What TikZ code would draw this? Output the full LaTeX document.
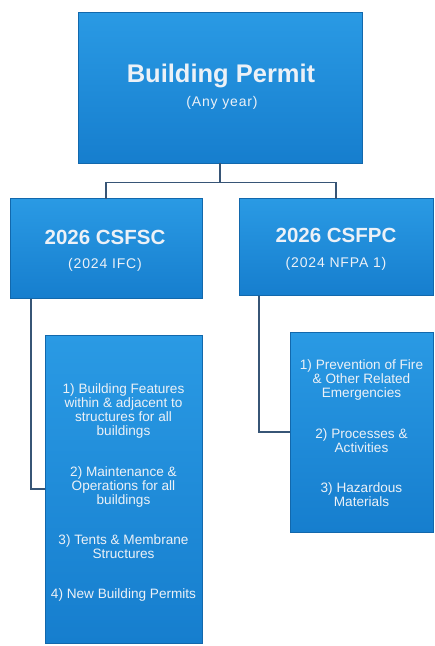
\documentclass[tikz,border=0pt]{standalone}
\usepackage{fontspec}
\setmainfont{Liberation Sans}
\definecolor{boxtop}{RGB}{42,154,228}
\definecolor{boxbot}{RGB}{22,126,206}
\definecolor{boxedge}{RGB}{18,104,172}
\definecolor{connc}{RGB}{55,85,118}
\definecolor{txt}{RGB}{236,241,247}
\tikzset{
  box/.style={rectangle, draw=boxedge, line width=0.6pt, top color=boxtop, bottom color=boxbot, inner sep=0pt, outer sep=0pt},
  conn/.style={draw=connc, line width=1.3pt},
  titletext/.style={text=txt, font=\bfseries\fontsize{25.5}{28}\selectfont, inner sep=0pt, anchor=base},
  subtext/.style={text=txt, font=\fontsize{14}{16}\selectfont\addfontfeatures{LetterSpace=6}, inner sep=0pt, anchor=base},
  midtitle/.style={text=txt, font=\bfseries\fontsize{20.5}{24}\selectfont, inner sep=0pt, anchor=base},
  leaftext/.style={text=txt, font=\fontsize{13.6}{14}\selectfont, inner sep=0pt, align=center}
}
\begin{document}
\begin{tikzpicture}[x=1pt,y=-1pt]
\useasboundingbox[fill=white] (0,0) rectangle (435,646);
% boxes
\node[box, minimum width=284pt, minimum height=151pt] (top) at (220,87.5) {};
\node[box, minimum width=192pt, minimum height=100pt] (l) at (106,248.5) {};
\node[box, minimum width=194pt, minimum height=97pt] (r) at (336,247) {};
\node[box, minimum width=157pt, minimum height=308pt] (ll) at (123.5,489) {};
\node[box, minimum width=143pt, minimum height=200pt] (rl) at (361.5,432) {};
% connectors
\draw[conn] (top.south) -- ++(0,19.5) coordinate (j);
\draw[conn] (j) -| (l.north);
\draw[conn] (j) -| (r.north);
\draw[conn] ([xshift=21pt]l.south west) |- (ll.west);
\draw[conn] ([xshift=20pt]r.south west) |- (rl.west);
% texts
\node[titletext] (t1) at (221,82) {Building Permit};
\node[subtext] (s1) at (222,106) {(Any year)};
\node[midtitle] (t2) at (105,244) {2026 CSFSC};
\node[subtext] (s2) at (105,268) {(2024 IFC)};
\node[midtitle] (t3) at (336,242) {2026 CSFPC};
\node[subtext] (s3) at (336,267) {(2024 NFPA 1)};
\node[leaftext] (lt) at (123.5,492.5) {1) Building Features\\within \& adjacent to\\structures for all\\buildings\\[27pt]2) Maintenance \&\\Operations for all\\buildings\\[26pt]3) Tents \& Membrane\\Structures\\[26pt]4) New Building Permits};
\node[leaftext] (rt) at (361.5,433) {1) Prevention of Fire\\\& Other Related\\Emergencies\\[27pt]2) Processes \&\\Activities\\[26pt]3) Hazardous\\Materials};
\end{tikzpicture}
\end{document}
